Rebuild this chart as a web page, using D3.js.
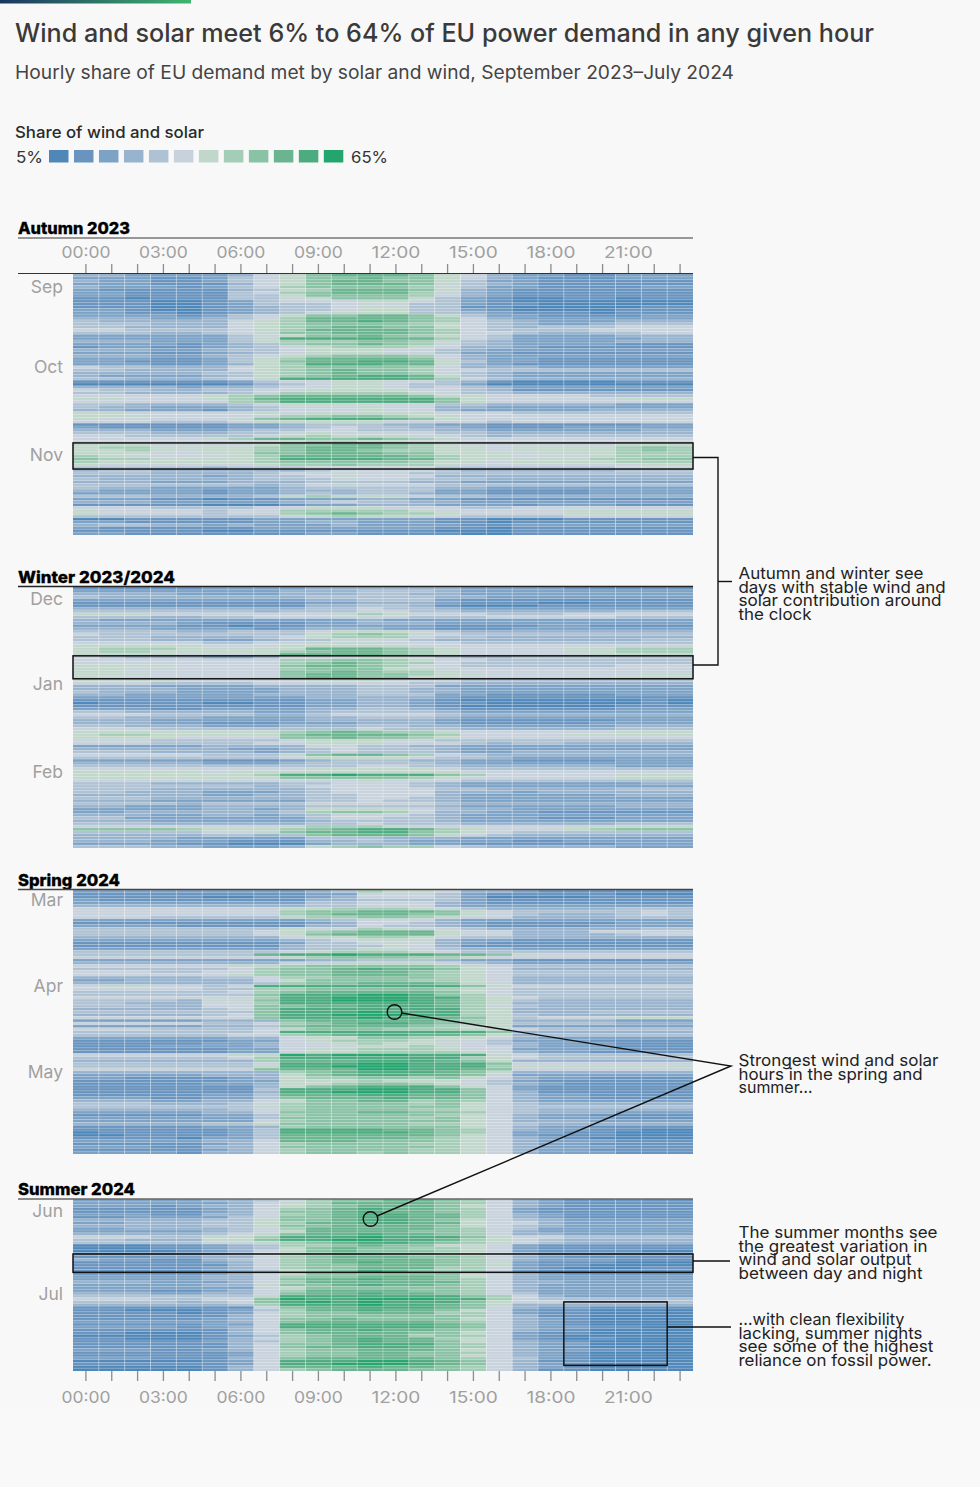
<!DOCTYPE html>
<html><head><meta charset="utf-8">
<script src="https://cdn.jsdelivr.net/npm/d3@7"></script>
<style>
html,body{margin:0;padding:0;background:#f9f9f9}
svg{display:block}
text{font-family:Inter,"Noto Sans",sans-serif}
</style></head><body>
<svg id="c" width="980" height="1487"></svg>
<script>
const hours = d3.range(24);
const hourTicks = ["00:00","03:00","06:00","09:00","12:00","15:00","18:00","21:00"];
const legendColors = ["#4f87b9","#6894bf","#7ca2c6","#98b3ce","#aec2d4","#c7d2dc","#c1d7cb","#a4cdb7","#8ac2a5","#6ab48f","#4dab80","#25a56e"];
// Each row = one day, each digit = the 5-point share band (0 = 5-10%, b = 60-65%) for one hour.
// The digits of a row run in this hour order:
const rowHourOrder = [23,0,1,2,3,4,5,6,7,8,9,10,11,12,13,14,15,16,17,18,19,20,21,22];
const autumnRows = [
"233222 235689 998653 221122","222211 245688 988653 211122","132211 245689 988642 211111","122211 135689 998643 211111","232221 245788 887542 211112",
"121111 134679 998632 111111","122111 145789 997532 111111","122111 144688 887532 111111","111011 144568 886421 001101","011100 124555 665421 000000",
"011100 124445 554421 100000","111100 123445 664411 000001","122100 123445 664421 000011","122110 123456 664432 111011","222221 245688 998642 211112",
"233322 345799 998753 222222","343333 356799 a98754 322233","444433 356788 887654 322344","544333 356789 988654 344455","555444 456799 998754 444555",
"544433 456889 998755 433445","322222 245688 987654 222233","322222 246aaa a99754 222223","333322 246777 887643 222233","122221 234788 987543 222211",
"112211 234567 776533 211111","233322 344566 655432 222222","122211 234566 655422 111111","233322 345678 887532 222222","122211 246799 998532 211111",
"122111 246899 aa9642 211111","122211 2367aa a99632 111111","254433 356788 887533 322222","444333 356789 887554 444444","233333 446789 887543 222222",
"232222 346789 aa9643 222222","344333 456aaa aa9754 333333","111111 124556 655431 000011","000000 013456 654420 000000","233332 334556 654543 222222",
"154433 445566 665543 111111","344333 345777 776544 333333","455555 678999 998665 555444","666555 679aaa aaa865 555566","555555 578aaa aaa865 555555",
"244333 345666 555443 333322","243322 234555 655332 222222","333222 134555 655322 222333","466555 556566 666555 444444","566655 555778 876655 555555",
"565555 5689aa a98655 555555","555544 456666 655554 555555","211111 122344 433221 111112","221111 122345 443321 112222","333322 234455 444332 222223",
"344433 344565 555443 333333","455444 445676 665543 444444","555555 679988 987655 555555","555555 555677 665555 555555","666655 556889 987655 555566",
"767766 667899 987665 666678","766765 667899 877665 666678","766655 668899 988666 566677","776555 567999 998766 555677","887766 667aaa a99766 666778",
"776666 667888 887665 666677","665555 556778 777655 555556","544444 344455 555444 444455","434433 333345 555433 333344","444433 334555 554444 444444",
"333333 234456 555333 333333","343333 334445 554443 333333","233322 233344 443322 222222","444444 443456 555444 444444","243322 222344 444332 222222",
"232222 122333 444221 111222","222222 122343 443221 111222","344433 334676 665443 333333","122211 011222 332211 111111","233322 222345 443322 222222",
"111111 000122 333222 122211","555544 445566 655544 555555","665555 455777 776555 556666","665555 455789 877655 556666","544444 444567 665544 445555",
"100111 112222 222110 001111","122111 112233 222110 111111","234433 232223 222211 222222","121111 112222 222110 111111","111111 001111 111000 111111",
"122111 111122 111100 111111"];
const winterRows = [
"111111 222233 333322 221111","222222 222333 444322 222222","233332 222333 443322 222222","243333 333344 444332 222222","122222 222233 444211 111111",
"111111 111122 333211 100111","111111 111133 443100 011111","233333 333344 544322 222222","444444 443444 554433 333344","566655 555556 765554 445555",
"444433 445555 554445 555544","232222 222222 322222 222222","233332 111122 333222 222222","122221 101122 222111 122111","233322 221233 322111 222222",
"344443 344456 665433 333333","454444 444467 876544 444444","344433 334567 775443 333333","444433 223445 554333 333334","455555 445566 655544 444444",
"566666 555666 665555 555555","767776 666699 987655 556677","767766 666789 987655 556677","666665 556999 987655 555666","454333 223555 665433 444444",
"455555 555778 876554 444444","455555 555789 877544 444444","566665 555899 875544 444455","566555 555788 866555 555555","566555 555889 877655 555555",
"666655 555899 887665 555556","665555 555899 886655 555566","466665 555566 655544 444444","355544 445555 554433 333333","233322 223333 444222 222222",
"233332 222333 443322 222222","243332 222333 443322 222222","233222 223333 444221 111122","122222 222233 333211 111111","011111 111122 332100 000001",
"001111 001122 332110 000001","111111 111122 332100 000011","222211 222233 443211 111122","244333 332234 444322 222222","355544 443345 555433 333333",
"244333 222233 444322 222222","233322 222233 333211 111122","233322 111222 333211 111222","344333 222333 443322 222233","455544 444444 544433 333344",
"666666 666789 877655 555566","667766 666899 998755 556666","566665 555889 887655 555555","455544 444566 655444 444444","355544 445566 655543 443333",
"222222 333355 443322 222222","233333 322345 444322 222222","344433 332345 444322 333333","355555 444689 987543 333333","244444 444566 665443 222222",
"222222 111234 443322 111122","233333 222344 444322 222222","244444 444444 554433 333322","455555 555566 666544 444444","566666 566666 666655 555555",
"666666 667aab aaa875 555566","666666 666888 887655 555566","455555 555555 655544 444444","344433 333445 554322 222223","244444 443455 554322 222222",
"444433 333345 555443 333344","344333 222345 555333 233333","333333 223344 555322 222233","244433 333344 554322 222222","233322 222244 544322 222222",
"344443 444455 555433 333333","333222 333344 444322 222233","222222 332366 665433 222222","122333 333478 875332 211111","233322 332345 554322 222222",
"244222 222245 544322 211122","233322 222234 444322 222222","444433 333344 544433 333344","655555 555677 765555 556666","888887 666789 aa9765 556788",
"444444 556899 aa8765 444444","333333 443489 998654 333333","233332 222244 433322 222222","233322 211133 432222 112222","222221 100023 332211 111122",
"244433 222367 877543 333322"];
const springRows = [
"122222 222234 766533 211111","011111 111122 555421 111100","111111 001123 555420 000111","121111 111133 444421 111111","122222 222244 555321 111111",
"233333 333344 555322 222222","455555 555667 776543 333344","455555 555788 999865 444445","455555 555789 998865 433345","455544 444677 887655 333344",
"222222 222234 555322 222222","211111 111123 554321 111122","222221 111133 544321 111222","444444 444655 765543 333334","544444 445678 999655 333555",
"544444 445689 999655 333345","333333 333566 776544 333333","122222 222345 666322 111111","111111 111244 555321 111111","111111 111344 465311 111111",
"222222 222344 655433 222222","444444 444567 776544 444444","544444 449aab aaa998 655555","555555 555678 887765 555555","122222 222233 444322 111111",
"233333 333556 666543 222222","455555 566788 888765 444444","344444 457889 a99865 333333","455544 557889 998765 444444","455555 567889 998765 444444",
"333333 445778 888765 333333","322333 335688 887765 333333","333333 334788 999865 333333","556655 45aaaa aaaa86 555555","455555 447788 888765 444444",
"444444 457899 999865 444444","444444 448aaa bba875 444444","455555 557aab bbaa76 544444","344443 668aab bba976 433333","344333 557aaa aaa976 333333",
"344433 558899 aaa975 433333","333333 458aaa aaaa76 333333","444444 448aaa baaa76 333444","333333 458aab bbaa76 433333","655555 558aaa baa986 455566",
"222222 333899 999876 333322","355555 445789 aa9876 444433","222222 334899 998766 222222","455544 445688 877766 544444","344444 445aaa aaaaa8 333333",
"444444 455789 aa9986 344444","222222 233566 887665 322222","111111 122567 776654 222111","111111 223556 766554 322211","111122 223555 667655 322211",
"111111 122566 777655 222211","111111 122566 777765 322111","455555 566bab bbaaa6 544444","444444 457aaa aaaa76 544444","333333 337999 aaa986 333333",
"544444 445aaa bbaaa8 555555","644444 446aab bbaaa7 666666","555555 558999 bbaa98 555555","333333 333789 aaa986 333333","222222 333689 aa9985 222222",
"122111 123677 887865 322111","111111 122666 766654 211111","111111 223667 887654 321111","111111 113689 aaa865 211111","111111 114aaa bbaa85 211111",
"111111 113aab bbaa85 311111","111111 224999 aa9985 322111","122211 224899 9a9985 322111","233322 335688 997875 322222","344433 345788 887865 433333",
"444444 446788 888865 444444","333333 345788 887765 433333","222222 335888 998875 433322","111111 224788 888765 322111","122222 224888 887865 322211",
"222222 225788 888865 333222","333333 446888 887765 433333","111111 223788 888865 322111","011111 124aaa a99875 322110","001111 124aaa aa9875 221100",
"000111 124999 999865 211100","011110 224999 998765 321000","122222 335999 888765 322211","111111 235788 887765 322111","122211 335888 888765 322211",
"111111 235788 887765 322111","122221 335788 787765 322211"];
const summerRows = [
"122222 334578 899875 321111","122222 235679 999875 321111","122212 335678 999865 321111","111111 235789 a99875 211111","111111 235889 a99875 211111",
"122211 335789 aa9975 321111","111222 245889 aa9975 321111","233333 446889 aa9865 432222","222333 446799 aa9965 532222","233333 446889 999865 432222",
"222333 345799 999875 422222","222222 345699 998875 322222","233333 456899 a99875 332222","455544 667aaa baaa86 554444","344333 668aab baa976 543333",
"344444 556789 aa9876 543333","100011 234778 988665 211111","100011 234689 887765 211111","000001 235689 888765 211110","111111 235789 988765 311111",
"111122 335789 998875 321111","132211 345789 999875 322211","011111 235789 a99876 211100","011111 135788 999876 211000","111111 235788 999775 210001",
"111111 234678 a98775 211111","111111 235688 888865 321111","222222 335788 999865 322222","222222 335899 a99875 322222","233322 235799 999975 332222",
"222222 336889 a99875 322222","222222 225688 888875 322222","222211 235799 998875 322222","233322 335899 a99875 422222","244444 446aaa aaaa87 532222",
"455544 558baa bbbaa7 544444","444443 458aba baaa86 554444","333333 347aaa baa986 333333","111111 115899 aaa985 322111","011000 124799 a99865 211000",
"011110 125788 999775 211000","011111 135788 888875 311000","011111 235889 888865 321000","022222 235899 999875 321000","011111 225aaa aaa985 321000",
"022221 235aaa aaa985 322110","011111 135899 a99875 321000","011000 135899 998865 211000","000000 124789 997875 210000","011000 135789 a99765 210100",
"011111 234789 a99865 321000","011111 135889 aaa875 322000","011111 135899 aa9875 321000","022211 235788 999865 322110","011111 125788 998875 321000",
"011111 125788 998865 321000","022211 135899 999875 421000","000000 125aaa bba985 311000","011111 125aab bba985 321000","000000 135999 a99875 321000",
"000000 135789 998875 311000"];
const seasonNames = ["Autumn 2023","Winter 2023/2024","Spring 2024","Summer 2024"];
const seasonMonths = [["Sep","Oct","Nov"],["Dec","Jan","Feb"],["Mar","Apr","May"],["Jun","Jul"]];
const monthStartRows = [[0,30,61],[0,31,62],[0,31,61],[0,30]];

const W = 980, H = 1487;
const svg = d3.select("#c");
const bands = [[274,535],[587,848],[890,1154],[1199,1371]];
const seasonRows = [autumnRows,winterRows,springRows,summerRows];
const titleY = [234,583,886,1194.5], ruleY = [238,586.5,889.5,1199], ruleCol = ["#777","#222","#444","#666"], titleW = [112,157,102,117];
const monthDy = [[19,13,12],[18,14,13],[16,13,13],[18,16]];

const x = d3.scaleBand().domain(hours).range([73,693]);
const levelValue = c => 5 + 5*(parseInt(c,16)+0.5);
const color = d3.scaleQuantize().domain([5,65]).range(legendColors);

svg.append("rect").attr("width",W).attr("height",1407).attr("fill","#f8f8f8");
const grad = svg.append("defs").append("linearGradient").attr("id","g");
grad.append("stop").attr("offset",0).attr("stop-color","#1b3560");
grad.append("stop").attr("offset",1).attr("stop-color","#3fb56f");
svg.append("rect").attr("width",191).attr("height",3.5).attr("fill","url(#g)");

function txt(s,xp,y,size,weight,fill,len,anchor){
  const t = svg.append("text").attr("x",xp).attr("y",y).attr("font-size",size).attr("font-weight",weight).attr("fill",fill).text(s);
  if(len) t.attr("textLength",len).attr("lengthAdjust","spacingAndGlyphs");
  if(anchor) t.attr("text-anchor",anchor);
  return t;
}
txt("Wind and solar meet 6% to 64% of EU power demand in any given hour",15,42,25,500,"#3a3a3a",859);
txt("Hourly share of EU demand met by solar and wind, September 2023–July 2024",15,79,18.5,400,"#444",719);
txt("Share of wind and solar",15,137.5,16.5,500,"#2a2a2a",189);
txt("5%",16,163,16.5,400,"#333",27);
txt("65%",351,163,16.5,400,"#333",37);
const lx = d3.scaleBand().domain(d3.range(legendColors.length)).range([49,343.3]).paddingInner(0.22).paddingOuter(0);
svg.append("g").selectAll("rect").data(legendColors).join("rect")
  .attr("x",(d,i)=>lx(i)).attr("y",150).attr("width",lx.bandwidth()).attr("height",12.5).attr("fill",d=>d);

const yScales = [];
seasonRows.forEach((rows,s)=>{
  const y = d3.scaleBand().domain(d3.range(rows.length)).range(bands[s]);
  yScales.push(y);
  const values = rows.map(r=>Array.from(r.replace(/ /g,"")).map(levelValue));
  const g = svg.append("g");
  g.selectAll("g").data(values).join("g").attr("transform",(d,i)=>`translate(0,${y(i)})`)
    .selectAll("rect").data(d=>d).join("rect")
    .attr("x",(d,j)=>x(rowHourOrder[j])).attr("width",x.bandwidth()).attr("height",y.bandwidth())
    .attr("fill",d=>color(d));
  // faint row and column separators
  const sep = svg.append("g").attr("stroke","#fff");
  sep.selectAll("line.r").data(d3.range(1,rows.length)).join("line").attr("class","r")
    .attr("x1",73).attr("x2",693).attr("y1",i=>y(i)).attr("y2",i=>y(i)).attr("stroke-opacity",0.3).attr("stroke-width",0.6);
  sep.selectAll("line.c").data(d3.range(1,24)).join("line").attr("class","c")
    .attr("x1",h=>x(h)).attr("x2",h=>x(h)).attr("y1",bands[s][0]).attr("y2",bands[s][1]).attr("stroke-opacity",0.4).attr("stroke-width",0.8);

  txt(seasonNames[s],18,titleY[s],16.5,800,"#000",titleW[s]).attr("stroke","#000").attr("stroke-width",0.3);
  svg.append("line").attr("x1",18).attr("x2",693).attr("y1",ruleY[s]).attr("y2",ruleY[s]).attr("stroke",ruleCol[s]).attr("stroke-width",1.5);
  seasonMonths[s].forEach((m,i)=>{
    txt(m,63,y(monthStartRows[s][i])+monthDy[s][i],17.5,400,"#a0a0a0",null,"end");
  });
});

function axis(gen,yp){
  const g = svg.append("g").attr("transform",`translate(0,${yp})`).call(gen);
  g.select(".domain").remove();
  g.selectAll(".tick line").attr("stroke","#8c8c8c").attr("stroke-width",1.3);
  g.selectAll(".tick text").attr("font-size",16.5).attr("fill","#a0a0a0").style("font-family","Inter").attr("textLength",49).attr("lengthAdjust","spacingAndGlyphs");
  return g;
}
const fmt = h => hourTicks.includes(String(h).padStart(2,"0")+":00") ? String(h).padStart(2,"0")+":00" : "";
axis(d3.axisTop(x).tickValues(hours).tickFormat(fmt).tickSize(9).tickPadding(6),273);
axis(d3.axisBottom(x).tickValues(hours).tickFormat(fmt).tickSize(10).tickPadding(10),1371);
svg.append("line").attr("x1",18).attr("x2",693).attr("y1",273.5).attr("y2",273.5).attr("stroke","#333").attr("stroke-width",1.2);

// annotation boxes, located by hour and day row
const boxes = [[0,0,24,58.9,68],[1,0,24,24,32],[3,0,24,19.5,26],[3,19,23,36.5,59]];
const rowY = (s,r)=>{const y=yScales[s];return bands[s][0]+r*y.step();};
boxes.forEach(([s,h0,h1,r0,r1])=>{
  const xa = x.range()[0]+h0*x.step(), xb = x.range()[0]+h1*x.step();
  svg.append("rect").attr("x",xa).attr("y",rowY(s,r0)).attr("width",xb-xa).attr("height",rowY(s,r1)-rowY(s,r0))
    .attr("fill","none").attr("stroke","#111").attr("stroke-width",1.5);
});
const lineGen = d3.line();
const leaders = [
 [[693,457.5],[718,457.5],[718,665],[693,665]],
 [[718,581.5],[732,581.5]],
 [[401.5,1013],[731,1066],[377,1216]],
 [[693,1261],[730,1261]],
 [[667,1327],[731,1327]]
];
leaders.forEach(p=>svg.append("path").attr("d",lineGen(p)).attr("fill","none").attr("stroke","#111").attr("stroke-width",1.4));
[[394.5,1012],[370.5,1219]].forEach(c=>svg.append("circle").attr("cx",c[0]).attr("cy",c[1]).attr("r",7.3).attr("fill","none").attr("stroke","#111").attr("stroke-width",1.4));

const notes = [
 [579,13.5,[["Autumn and winter see",185],["days with stable wind and",207],["solar contribution around",203],["the clock",73]]],
 [1066,13.5,[["Strongest wind and solar",200],["hours in the spring and",184],["summer…",74]]],
 [1238,13.6,[["The summer months see",199],["the greatest variation in",189],["wind and solar output",173],["between day and night",184]]],
 [1325,13.6,[["…with clean flexibility",166],["lacking, summer nights",184],["see some of the highest",195],["reliance on fossil power.",193]]]
];
notes.forEach(([y0,lh,ls])=>ls.forEach(([s,w],i)=>txt(s,738.5,y0+i*lh,16.5,400,"#222",w)));
</script></body></html>
